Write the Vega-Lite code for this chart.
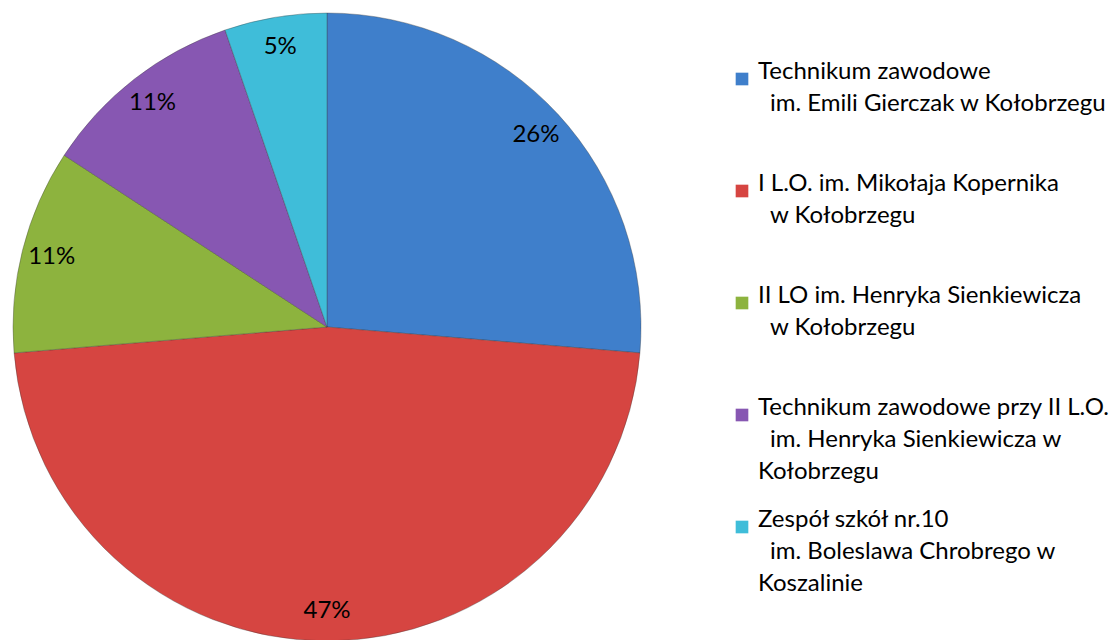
{
  "$schema": "https://vega.github.io/schema/vega-lite/v6.json",
  "width": 654,
  "height": 654,
  "padding": 0,
  "background": "white",
  "config": {
    "view": {"stroke": null},
    "style": {"guide-label": {"lineHeight": 32}}
  },
  "data": {
    "values": [
      {"idx": 1, "school": "Technikum zawodowe|\u200b\u2002im. Emili Gierczak w Kołobrzegu", "count": 5, "pct": "26%"},
      {"idx": 2, "school": "I L.O. im. Mikołaja Kopernika|\u200b\u2002w Kołobrzegu", "count": 9, "pct": "47%"},
      {"idx": 3, "school": "II LO im. Henryka Sienkiewicza|\u200b\u2002w Kołobrzegu", "count": 2, "pct": "11%"},
      {"idx": 4, "school": "Technikum zawodowe przy II L.O.|\u200b\u2002im. Henryka Sienkiewicza w|Kołobrzegu", "count": 2, "pct": "11%"},
      {"idx": 5, "school": "Zespół szkół nr.10|\u200b\u2002im. Boleslawa Chrobrego w|Koszalinie", "count": 1, "pct": "5%"}
    ]
  },
  "encoding": {
    "theta": {"field": "count", "type": "quantitative", "stack": true},
    "order": {"field": "idx", "type": "quantitative"}
  },
  "layer": [
    {
      "mark": {"type": "arc", "outerRadius": 314, "stroke": "#3a3a3a", "strokeOpacity": 0.35, "strokeWidth": 1},
      "encoding": {
        "color": {
          "field": "school",
          "type": "nominal",
          "scale": {
            "domain": [
              "Technikum zawodowe|\u200b\u2002im. Emili Gierczak w Kołobrzegu",
              "I L.O. im. Mikołaja Kopernika|\u200b\u2002w Kołobrzegu",
              "II LO im. Henryka Sienkiewicza|\u200b\u2002w Kołobrzegu",
              "Technikum zawodowe przy II L.O.|\u200b\u2002im. Henryka Sienkiewicza w|Kołobrzegu",
              "Zespół szkół nr.10|\u200b\u2002im. Boleslawa Chrobrego w|Koszalinie"
            ],
            "range": ["#3F7FCB", "#D64541", "#8DB33E", "#8757B2", "#3FBDD9"]
          },
          "legend": {
            "orient": "none",
            "legendX": 730,
            "legendY": 67,
            "title": null,
            "labelFont": "Lato",
            "labelFontSize": 24,
            "labelColor": "#000000",
            "labelLimit": 0,
            "labelBaseline": "alphabetic",
            "labelOffset": 4,
            "symbolType": "square",
            "symbolSize": 160,
            "symbolStrokeWidth": 0,
            "gridAlign": "all",
            "rowPadding": 24,
            "labelExpr": "split(datum.label, '|')"
          }
        }
      }
    },
    {
      "mark": {"type": "text", "radius": 284, "font": "Lato", "fontSize": 24, "fill": "#000000"},
      "encoding": {
        "text": {"field": "pct", "type": "nominal"}
      }
    }
  ]
}
